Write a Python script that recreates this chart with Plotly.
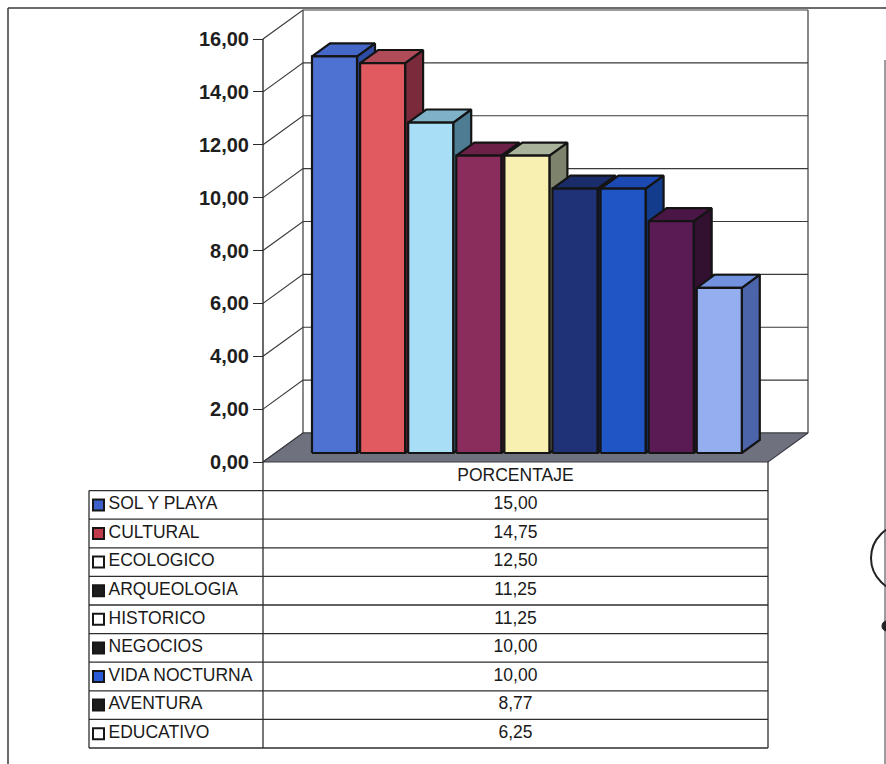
import plotly.graph_objects as go

# ---- data -------------------------------------------------------------
categories = ["SOL Y PLAYA", "CULTURAL", "ECOLOGICO", "ARQUEOLOGIA", "HISTORICO",
              "NEGOCIOS", "VIDA NOCTURNA", "AVENTURA", "EDUCATIVO"]
porcentaje = [15.00, 14.75, 12.50, 11.25, 11.25, 10.00, 10.00, 8.77, 6.25]
series_name = "PORCENTAJE"
y_ticks = [0, 2, 4, 6, 8, 10, 12, 14, 16]
y_tick_labels = ["0,00", "2,00", "4,00", "6,00", "8,00", "10,00", "12,00", "14,00", "16,00"]

# ---- styles -----------------------------------------------------------
front_colors = ["#4e72d2", "#e05a60", "#a8def6", "#8a2c5c", "#f7f0b0",
                "#1f3277", "#1f55c4", "#5a1b55", "#94aef0"]
top_colors = ["#4467c8", "#b04c58", "#7fb2c8", "#6c2048", "#a9b29a",
              "#1a2c6a", "#1c4ab2", "#4a1646", "#7292e0"]
side_colors = ["#2f4ca4", "#7a2a3a", "#4e7c92", "#4a1632", "#7c826c",
               "#121e4c", "#143c8c", "#321030", "#4c64aa"]
key_colors = ["#3c5fc8", "#c03c4c", "#ffffff", "#1c1c1c", "#ffffff",
              "#1c1c1c", "#2a5ad8", "#1c1c1c", "#ffffff"]

FONT = "Arial, Liberation Sans, sans-serif"
W, H = 886, 764

# ---- geometry of the 3-D frame (pixels of the front plane) -----------
AX_PX = 263          # value axis position
BASE_PX = 462        # value 0
TOP_PX = 39          # value 16
SLOTS = 10.5         # floor width in category slots
PX_X = 505 / SLOTS   # pixels per slot
PX_Y = (BASE_PX - TOP_PX) / 16.0  # pixels per value unit
DX = 40 / PX_X       # depth offset, x
DY = 29 / PX_Y       # depth offset, y
F1, F2 = 0.31, 0.76  # bar depth (fraction of the floor depth)
BAR_W = 0.936        # bar width in slots
BAR0 = 0.761         # first bar offset in slots
ROW_PX = 28.6        # table row height
TABLE_LEFT = (89 - AX_PX) / PX_X
KEY_X = (98.5 - AX_PX) / PX_X
LABEL_X = (108.5 - AX_PX) / PX_X
EDGE = "#141414"

fig = go.Figure()

# walls: side-wall diagonals, back-wall gridlines, wall edges
wx, wy = [], []
for v in y_ticks:
    wx += [0, DX, SLOTS + DX, None]
    wy += [v, v + DY, v + DY, None]
wx += [DX, DX, None, SLOTS + DX, SLOTS + DX, None]
wy += [DY, 16 + DY, None, DY, 16 + DY, None]
fig.add_trace(go.Scatter(x=wx, y=wy, mode="lines",
                         line=dict(color="#3a3a3a", width=1.2),
                         hoverinfo="skip", showlegend=False))

# floor
fig.add_trace(go.Scatter(x=[0, SLOTS, SLOTS + DX, DX, 0], y=[0, 0, DY, DY, 0],
                         mode="lines", fill="toself", fillcolor="#6f727e",
                         line=dict(color="#3c3c44", width=1.2),
                         hoverinfo="skip", showlegend=False))

# bars (side, top, front), painted left to right
for i, (cat, v) in enumerate(zip(categories, porcentaje)):
    a = BAR0 + i
    xl1, xr1 = a + F1 * DX, a + BAR_W + F1 * DX
    xl2, xr2 = a + F2 * DX, a + BAR_W + F2 * DX
    y1b, y2b = F1 * DY, F2 * DY
    y1t, y2t = v + F1 * DY, v + F2 * DY
    faces = [
        ([xr1, xr2, xr2, xr1, xr1], [y1b, y2b, y2t, y1t, y1b], side_colors[i]),
        ([xl1, xr1, xr2, xl2, xl1], [y1t, y1t, y2t, y2t, y1t], top_colors[i]),
        ([xl1, xr1, xr1, xl1, xl1], [y1b, y1b, y1t, y1t, y1b], front_colors[i]),
    ]
    for fx, fy, col in faces:
        fig.add_trace(go.Scatter(x=fx, y=fy, mode="lines", fill="toself",
                                 fillcolor=col, line=dict(color=EDGE, width=2.2),
                                 name=cat, hoverinfo="skip", showlegend=False))

# front value axis line (continues as the table divider)
fig.add_trace(go.Scatter(x=[0, 0], y=[0, 16], mode="lines",
                         line=dict(color="#2a2a2a", width=1.4),
                         hoverinfo="skip", showlegend=False))

# ---- data table ---------------------------------------------------------
n = len(categories)
tx, ty = [], []
for k in range(1, n + 2):
    tx += [TABLE_LEFT, SLOTS, None]
    ty += [k, k, None]
tx += [TABLE_LEFT, TABLE_LEFT, None, 0, 0, None, SLOTS, SLOTS, None]
ty += [1, n + 1, None, 0, n + 1, None, 0, n + 1, None]
fig.add_trace(go.Scatter(x=tx, y=ty, xaxis="x", yaxis="y2", mode="lines",
                         line=dict(color="#2e2e2e", width=1.3),
                         hoverinfo="skip", showlegend=False))

rows = [k + 1.5 for k in range(n)]
fig.add_trace(go.Scatter(x=[SLOTS / 2], y=[0.5], xaxis="x", yaxis="y2",
                         mode="text", text=[series_name],
                         textfont=dict(family=FONT, size=17.5, color="#1a1a1a"),
                         hoverinfo="skip", showlegend=False))
fig.add_trace(go.Scatter(x=[SLOTS / 2] * n, y=rows, xaxis="x", yaxis="y2",
                         mode="text",
                         text=[f"{v:.2f}".replace(".", ",") for v in porcentaje],
                         textfont=dict(family=FONT, size=17.5, color="#1a1a1a"),
                         hoverinfo="skip", showlegend=False))
fig.add_trace(go.Scatter(x=[LABEL_X] * n, y=rows, xaxis="x", yaxis="y2",
                         mode="text", text=categories, textposition="middle right",
                         textfont=dict(family=FONT, size=17.5, color="#1a1a1a"),
                         hoverinfo="skip", showlegend=False))
fig.add_trace(go.Scatter(x=[KEY_X] * n, y=rows, xaxis="x", yaxis="y2",
                         mode="markers",
                         marker=dict(symbol="square", size=11, color=key_colors,
                                     line=dict(color="#161616", width=2)),
                         hoverinfo="skip", showlegend=False))

# ---- page frame and stamp edge -----------------------------------------
def px(x):
    return x / W

def py(y):
    return 1 - y / H

shapes = [
    dict(type="line", xref="paper", yref="paper", x0=px(8), x1=px(8), y0=py(8), y1=py(764),
         line=dict(color="#3a3a3a", width=1.5)),
    dict(type="line", xref="paper", yref="paper", x0=px(8), x1=px(886), y0=py(8), y1=py(8),
         line=dict(color="#3a3a3a", width=1.5)),
    dict(type="line", xref="paper", yref="paper", x0=px(885), x1=px(885), y0=py(60), y1=py(764),
         line=dict(color="#5a5a5a", width=1.2)),
    dict(type="circle", xref="paper", yref="paper", x0=px(871), x1=px(940), y0=py(592), y1=py(524),
         line=dict(color="#222222", width=2)),
    dict(type="circle", xref="paper", yref="paper", x0=px(882), x1=px(891), y0=py(631), y1=py(621),
         fillcolor="#222222", line=dict(color="#222222", width=1)),
]

fig.update_layout(
    width=W, height=H,
    margin=dict(l=0, r=0, t=0, b=0),
    paper_bgcolor="white", plot_bgcolor="white",
    showlegend=False,
    shapes=shapes,
    xaxis=dict(domain=[0, 1], range=[-AX_PX / PX_X, (W - AX_PX) / PX_X],
               visible=False, fixedrange=True),
    yaxis=dict(domain=[0, 1], range=[-(H - BASE_PX) / PX_Y, BASE_PX / PX_Y],
               anchor="free", position=AX_PX / W, side="left",
               tickmode="array", tickvals=y_ticks, ticktext=y_tick_labels,
               ticks="outside", ticklen=10, tickwidth=1.4, tickcolor="#2a2a2a",
               tickfont=dict(family=FONT, size=20, color="#1e1e1e", weight="bold"),
               showgrid=False, zeroline=False, showline=False, fixedrange=True),
    yaxis2=dict(domain=[0, 1], overlaying="y", anchor="x",
                range=[(H - BASE_PX) / ROW_PX, -BASE_PX / ROW_PX],
                visible=False, fixedrange=True),
)

fig.write_html("out.html")
